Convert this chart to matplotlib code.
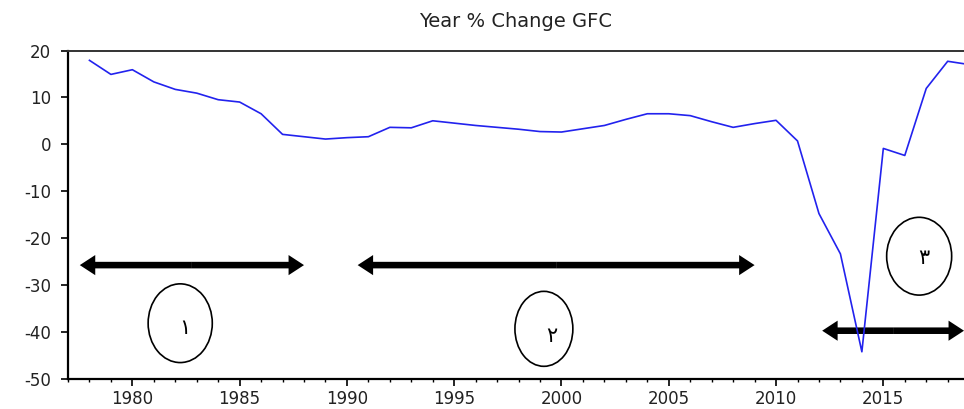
import matplotlib
matplotlib.use("Agg")
import matplotlib.pyplot as plt
from matplotlib.patches import Ellipse
from matplotlib.ticker import MultipleLocator

plt.rcParams['font.family'] = ['DejaVu Sans']
plt.rcParams['axes.unicode_minus'] = False

years = list(range(1978, 2020))
gfc_change = [17.9, 14.9, 15.9, 13.3, 11.7, 10.9, 9.5, 9.0, 6.5, 2.1,
              1.6, 1.1, 1.4, 1.6, 3.6, 3.5, 5.0, 4.5, 4.0, 3.6,
              3.2, 2.7, 2.6, 3.3, 4.0, 5.3, 6.5, 6.5, 6.1, 4.8,
              3.6, 4.4, 5.1, 0.7, -14.8, -23.4, -44.3, -0.9, -2.4, 11.9,
              17.7, 17.0]
y_ticks = [20, 10, 0, -10, -20, -30, -40, -50]
x_ticks = [1980, 1985, 1990, 1995, 2000, 2005, 2010, 2015]
phase_labels = ['١', '٢', '٣']

fig = plt.figure(figsize=(9.64, 4.09), dpi=100)
ax = fig.add_axes([68/964, 30.5/409, 896/964, 328/409])

ax.plot(years, gfc_change, color='#2222ee', lw=1.2, zorder=4)

ax.set_xlim(1977, 2018.76)
ax.set_ylim(-50, 20)
ax.set_xticks(x_ticks)
ax.set_yticks(y_ticks)
ax.xaxis.set_minor_locator(MultipleLocator(1))
ax.tick_params(axis='both', which='major', labelsize=12, direction='out',
               length=5, width=1.2, colors='black')
ax.tick_params(axis='x', which='minor', direction='out', length=2.5, width=1.0)
ax.tick_params(axis='y', pad=7)
ax.tick_params(axis='x', pad=3)
for lab in ax.get_xticklabels() + ax.get_yticklabels():
    lab.set_color('#222222')

ax.spines['right'].set_visible(False)
for s in ['left', 'bottom']:
    ax.spines[s].set_linewidth(1.6)
ax.spines['top'].set_linewidth(1.4)
ax.spines['top'].set_color('#333333')

ax.set_title('Year % Change GFC', fontsize=14, color='#222222', pad=17)

# double arrows marking the phases (two solid arrows from the middle outwards)
shaft = 1.4      # in y units
head_w = 4.3     # in y units
head_l = 0.72    # in years
for x0, x1, yv in [(1977.55, 1988.0, -25.8), (1990.5, 2009.0, -25.8),
                   (2012.15, 2018.76, -39.8)]:
    mid = (x0 + x1) / 2
    for end in (x0, x1):
        ax.arrow(mid, yv, end - mid, 0, width=shaft, head_width=head_w,
                 head_length=head_l, length_includes_head=True,
                 fc='black', ec='none', clip_on=False, zorder=3)

# circled phase numbers
ellipses = [(1982.23, -38.2, 2.99, 16.8), (1999.18, -39.4, 2.7, 16.0),
            (2016.67, -23.9, 3.03, 16.6)]
text_pos = [(1982.45, -39.2), (1999.55, -41.0), (2016.9, -24.3)]
for (cx, cy, w, h), (tx, ty), lab in zip(ellipses, text_pos, phase_labels):
    ax.add_patch(Ellipse((cx, cy), w, h, fill=False, ec='black', lw=1.2))
    ax.text(tx, ty, lab, fontsize=15, ha='center', va='center', color='black')

fig.savefig('out.png', dpi=100)
